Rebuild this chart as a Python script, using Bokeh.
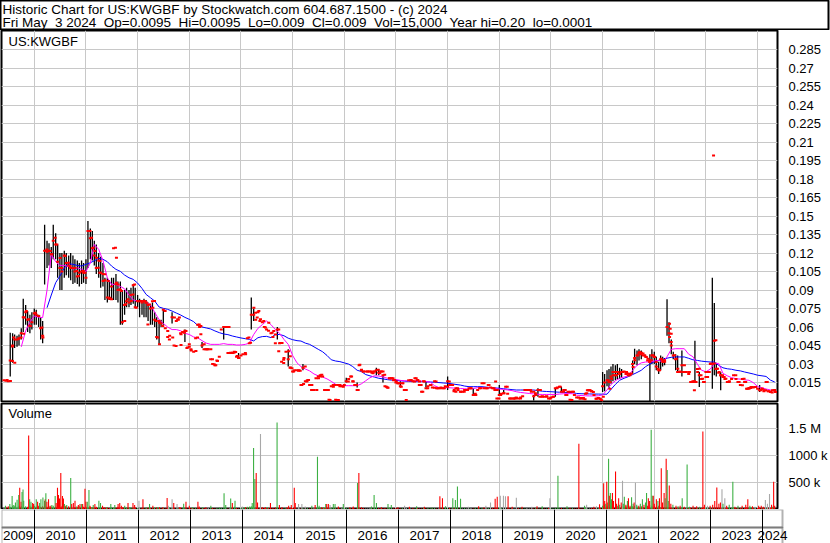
import numpy as np
import pandas as pd
from bokeh.plotting import figure
from bokeh.layouts import column
from bokeh.models import Range1d, FixedTicker, ColumnDataSource, Grid, BoxAnnotation
from bokeh.embed import file_html
from bokeh.resources import INLINE
from bokeh.core.properties import value

_ = None

# ---------------------------------------------------------------- texts
title_line1 = "Historic Chart for US:KWGBF by Stockwatch.com 604.687.1500 - (c) 2024"
title_line2 = ("Fri May  3 2024  Op=0.0095  Hi=0.0095  Lo=0.009  Cl=0.009  "
               "Vol=15,000  Year hi=0.20  lo=0.0001")
symbol = "US:KWGBF"
volume_title = "Volume"

years = list(range(2009, 2025))
year_labels = [str(y) for y in years]
year_starts = list(range(2010, 2025))

price_ticks = [0.015, 0.03, 0.045, 0.06, 0.075, 0.09, 0.105, 0.12, 0.135, 0.15,
               0.165, 0.18, 0.195, 0.21, 0.225, 0.24, 0.255, 0.27, 0.285]
price_tick_labels = ["0.015", "0.03", "0.045", "0.06", "0.075", "0.09", "0.105", "0.12",
                     "0.135", "0.15", "0.165", "0.18", "0.195", "0.21", "0.225", "0.24",
                     "0.255", "0.27", "0.285"]
volume_ticks = [500000, 1000000, 1500000]
volume_tick_labels = ["500 k", "1000 k", "1.5 M"]

# ---------------------------------------------------------------- price data (semi-monthly)
price_dates = pd.date_range("2009-06-01", "2024-05-01", freq="SMS")

close = (
    [0.017, 0.0165, 0.016, 0.033, 0.045, 0.05, 0.05, 0.051, 0.055, 0.068, 0.072, 0.066, 0.061, 0.064]
    + [0.071, 0.07, 0.069, 0.059, 0.053, 0.122, 0.121, 0.122, 0.119, 0.13, 0.127, 0.113,
       0.108, 0.105, 0.118, 0.112, 0.11, 0.108, 0.108, 0.105, 0.101, 0.104, 0.105, 0.104]
    + [0.1, 0.138, 0.132, 0.124, 0.118, 0.108, 0.114, 0.104, 0.103, 0.098, 0.084, 0.083,
       0.093, 0.124, 0.095, 0.09, 0.09, 0.064, 0.078, 0.081, 0.08, 0.086, 0.094, 0.076]
    + [0.081, 0.081, 0.08, 0.081, 0.08, 0.078, 0.075, 0.081, 0.066, 0.052, 0.065, 0.063,
       0.074, 0.059, 0.052, 0.053, 0.068, 0.045, 0.065, 0.066, 0.055, 0.056, 0.057, 0.043]
    + [0.044, 0.041, 0.04, 0.051, 0.062, 0.06, 0.045, 0.042, 0.042, 0.042, 0.034, 0.03,
       0.029, 0.033, 0.036, 0.058, 0.06, 0.06, 0.039, 0.039, 0.039, 0.04, 0.036, 0.035]
    + [0.037, 0.038, 0.039, 0.051, 0.047, 0.07, 0.07, 0.066, 0.072, 0.065, 0.064, 0.06,
       0.058, 0.057, 0.055, 0.052, 0.047, 0.058, 0.047, 0.032, 0.035, 0.04, 0.034, 0.027]
    + [0.024, 0.025, 0.025, 0.025, 0.013, 0.027, 0.016, 0.017, 0.013, 0.009, 0.009, 0.0185,
       0.02, 0.021, 0.02, 0.009, 0.009, 0.001, 0.012, 0.013, 0.001, 0.013, 0.012, 0.012]
    + [0.013, 0.016, 0.018, 0.02, 0.016, 0.013, 0.009, 0.029, 0.025, 0.024, 0.024, 0.024,
       0.024, 0.023, 0.024, 0.025, 0.023, 0.024, 0.021, 0.012, 0.011, 0.0185, 0.0185, 0.017]
    + [0.015, 0.0145, 0.012, 0.0145, 0.009, 0.009, 0.017, 0.017, 0.016, 0.0185, 0.017, 0.013,
       0.0076, 0.016, 0.0104, 0.012, 0.013, 0.011, 0.016, 0.0104, 0.0104, 0.011, 0.0104, 0.012]
    + [0.016, 0.013, 0.013, 0.008, 0.0104, 0.009, 0.0076, 0.0076, 0.009, 0.009, 0.0104, 0.0104,
       0.005, 0.006, 0.009, 0.0104, 0.0145, 0.0104, 0.0104, 0.013, 0.011, 0.0104, 0.009, 0.0022]
    + [0.005, 0.006, 0.0063, 0.0117, 0.006, 0.0022, 0.0022, 0.0022, 0.0027, 0.0022, 0.003, 0.004,
       0.009, 0.009, 0.009, 0.0076, 0.004, 0.005, 0.009, 0.0035, 0.004, 0.0035, 0.004, 0.0022]
    + [0.003, 0.0035, 0.0104, 0.011, 0.0117, 0.0076, 0.009, 0.005, 0.0076, 0.001, 0.0076, 0.005,
       0.003, 0.003, 0.0026, 0.002, 0.006, 0.0088, 0.0088, 0.008, 0.005, 0.002, 0.0026, 0.002]
    + [0.012, 0.015, 0.017, 0.0155, 0.02, 0.0236, 0.021, 0.0236, 0.022, 0.0236, 0.024, 0.022,
       0.021, 0.022, 0.03, 0.035, 0.037, 0.039, 0.038, 0.037, 0.036, 0.033, 0.033, 0.037]
    + [0.036, 0.028, 0.025, 0.034, 0.033, 0.032, 0.06, 0.055, 0.045, 0.037, 0.034, 0.0236,
       0.024, 0.029, 0.0236, 0.0236, 0.022, 0.0155, 0.016, 0.0155, 0.026, 0.021, 0.018, 0.0155]
    + [0.0196, 0.0236, 0.03, 0.03, 0.049, 0.026, 0.023, 0.021, 0.0196, 0.018, 0.0155, 0.016,
       0.018, 0.021, 0.018, 0.0155, 0.013, 0.018, 0.0155, 0.01, 0.0107, 0.0115, 0.011, 0.0115]
    + [0.01, 0.0088, 0.01, 0.0088, 0.0155, 0.008, 0.0075, 0.0088, 0.009]
)

high = (
    [_, _, _, 0.0555, 0.055, 0.054, 0.053, 0.054, 0.059, 0.083, 0.078, 0.073, 0.07, 0.072]
    + [0.075, 0.074, 0.07, 0.068, 0.065, 0.143, 0.13, 0.128, 0.125, 0.143, 0.136, 0.127,
       0.12, 0.12, 0.122, 0.12, 0.118, 0.12, 0.118, 0.115, 0.114, 0.112, 0.114, 0.112]
    + [0.115, 0.146, 0.14, 0.138, 0.13, 0.127, 0.12, 0.117, 0.112, 0.1, 0.1, 0.098,
       0.1, 0.1, 0.103, 0.097, 0.097, 0.09, 0.09, 0.092, 0.09, 0.092, 0.095, 0.092]
    + [0.086, 0.083, 0.082, 0.083, 0.082, 0.08, 0.078, 0.08, 0.072, 0.068, 0.066, 0.066,
       0.074, _, _, _, 0.072, _, _, _, _, _, 0.058, _]
    + [_] * 6 + [0.048] + [_] * 9 + [0.06] + [_] * 6 + [0.039]
    + [_] * 5 + [0.084, 0.075] + [_] * 10 + [0.06] + [_] * 4 + [0.042] + [_]
    + [_] * 5 + [0.03] + [_] * 18
    + [_, 0.019, _, _, _, _, 0.015] + [_] * 8 + [0.027, 0.026, _, 0.021] + [_] * 5
    + [_, _, 0.016] + [_] * 11 + [0.016] + [_] * 9
    + [0.02] + [_] * 11 + [0.0104] + [_] * 11
    + [0.013, _, 0.009] + [_] * 13 + [0.005, _, 0.0104] + [_] * 5
    + [_, _, 0.0104, _, _, 0.0117] + [_] * 18
    + [0.0236, 0.022, 0.025, 0.026, 0.028, 0.03, 0.029, 0.03, 0.027, 0.026, _, _,
       _, _, 0.033, 0.0425, 0.041, 0.042, 0.041, _, _, _, 0.038, 0.042]
    + [0.04, 0.036, 0.032, 0.037, 0.036, 0.035, 0.0825, 0.064, 0.05, 0.04, 0.038, 0.037,
       _, 0.041, _, _, _, _, _, 0.049, _, 0.0236, _, _]
    + [_, _, _, 0.1, 0.0795, 0.031, _, 0.0236] + [_] * 16
    + [_, 0.013, _, _, _, _, _, _, 0.0095]
)

low = (
    [_, _, _, 0.02, 0.031, 0.043, 0.044, 0.045, 0.05, 0.056, 0.062, 0.056, 0.055, 0.058]
    + [0.062, 0.062, 0.06, 0.05, 0.047, 0.0945, 0.108, 0.11, 0.108, 0.115, 0.115, 0.1,
       0.09, 0.09, 0.1, 0.102, 0.1, 0.098, 0.095, 0.096, 0.095, 0.093, 0.095, 0.096]
    + [0.095, 0.108, 0.115, 0.114, 0.11, 0.103, 0.1, 0.092, 0.093, 0.082, 0.08, 0.082,
       0.083, 0.082, 0.082, 0.08, 0.062, 0.062, 0.07, 0.076, 0.076, 0.078, 0.079, 0.076]
    + [0.076, 0.068, 0.07, 0.068, 0.068, 0.065, 0.062, 0.062, 0.06, 0.05, 0.046, 0.06,
       0.062, _, _, _, 0.063, _, _, _, _, _, 0.048, _]
    + [_] * 6 + [0.043] + [_] * 9 + [0.05] + [_] * 6 + [0.035]
    + [_] * 5 + [0.058, 0.065] + [_] * 10 + [0.05] + [_] * 4 + [0.028] + [_]
    + [_] * 5 + [0.025] + [_] * 18
    + [_, 0.015, _, _, _, _, 0.011] + [_] * 8 + [0.021, 0.021, _, 0.015] + [_] * 5
    + [_, _, 0.011] + [_] * 11 + [0.011] + [_] * 9
    + [0.009] + [_] * 11 + [0.005] + [_] * 11
    + [0.005, _, 0.0063] + [_] * 13 + [0.0005, _, 0.0035] + [_] * 5
    + [_, _, 0.0035, _, _, 0.0076] + [_] * 18
    + [0.0074, 0.008, 0.012, 0.01, 0.014, 0.016, 0.017, 0.018, 0.018, 0.019, _, _,
       _, _, 0.022, 0.03, 0.029, 0.033, 0.034, _, _, _, 0.0, 0.03]
    + [0.03, 0.025, 0.022, 0.025, 0.028, 0.029, 0.053, 0.047, 0.038, 0.034, 0.025, 0.023,
       _, 0.02, _, _, _, _, _, 0.015, _, 0.0115, _, _]
    + [_, _, _, 0.01, 0.021, 0.02, _, 0.0088] + [_] * 16
    + [_, 0.0074, _, _, _, _, _, _, 0.009]
)

# further daily closes (decimal year, price)
extra_close_year = (
    [2009.474, 2009.538, 2009.577, 2009.622, 2009.577, 2009.603, 2009.699, 2009.744, 2009.795,
     2009.808, 2009.846, 2009.891, 2009.923]
    + [2010.019, 2010.083, 2010.147, 2010.167, 2010.244, 2010.308, 2010.34, 2010.404, 2010.436,
       2010.5, 2010.532, 2010.596, 2010.66, 2010.692, 2010.788, 2010.821, 2010.853, 2010.949,
       2010.981]
    + [2011.077, 2011.109, 2011.141, 2011.173, 2011.205, 2011.237, 2011.269, 2011.269, 2011.333,
       2011.365, 2011.429, 2011.462, 2011.494, 2011.571, 2011.59, 2011.59, 2011.622, 2011.654,
       2011.686, 2011.75, 2011.769, 2011.814, 2011.878, 2011.91, 2011.942, 2011.974]
    + [2012.006, 2012.071, 2012.135, 2012.167, 2012.199, 2012.231, 2012.295, 2012.327, 2012.359,
       2012.391, 2012.423, 2012.423, 2012.487, 2012.532, 2012.583, 2012.615, 2012.679, 2012.712,
       2012.744, 2012.776, 2012.808, 2012.84, 2012.84, 2012.904, 2012.936, 2012.968]
    + [2013.0, 2013.032, 2013.128, 2013.16, 2013.192, 2013.224, 2013.224, 2013.288, 2013.321,
       2013.353, 2013.417, 2013.449, 2013.481, 2013.513, 2013.545, 2013.705, 2013.737, 2013.769,
       2013.801, 2013.833, 2013.865, 2013.897, 2013.929, 2013.962]
    + [2014.09, 2014.154, 2014.186, 2014.25, 2014.282, 2014.314, 2014.346, 2014.378, 2014.442,
       2014.474, 2014.538, 2014.603, 2014.635, 2014.667, 2014.731, 2014.763, 2014.795, 2014.731,
       2014.827, 2014.827, 2014.923, 2014.955, 2014.955, 2014.987]
    + [2015.019, 2015.115, 2015.147, 2015.179, 2015.212, 2015.244, 2015.276, 2015.308, 2015.372,
       2015.404, 2015.468, 2015.5, 2015.532, 2015.564, 2015.628, 2015.692, 2015.724, 2015.788,
       2015.821, 2015.853, 2015.885, 2015.917, 2015.981]
    + [2016.077, 2016.141, 2016.173, 2016.237, 2016.269, 2016.301, 2016.333, 2016.365, 2016.462,
       2016.526, 2016.558, 2016.59, 2016.654, 2016.686, 2016.718, 2016.75, 2016.782, 2016.814,
       2016.846, 2016.878, 2016.91, 2016.942, 2016.974]
    + [2017.006, 2017.038, 2017.071, 2017.103, 2017.135, 2017.167, 2017.199, 2017.295, 2017.359,
       2017.391, 2017.423, 2017.455, 2017.487, 2017.519, 2017.551, 2017.615, 2017.679, 2017.744,
       2017.776, 2017.808, 2017.872, 2017.936]
    + [2018.0, 2018.032, 2018.096, 2018.128, 2018.16, 2018.192, 2018.256, 2018.321, 2018.385,
       2018.449, 2018.513, 2018.545, 2018.641, 2018.705, 2018.769, 2018.801, 2018.897, 2018.929,
       2018.962, 2018.994]
    + [2019.026, 2019.09, 2019.154, 2019.218, 2019.282, 2019.314, 2019.327, 2019.41, 2019.538,
       2019.603, 2019.667, 2019.699, 2019.795, 2019.827, 2019.923, 2019.987]
    + [2020.051, 2020.115, 2020.179, 2020.244, 2020.276, 2020.308, 2020.372, 2020.404, 2020.436,
       2020.564, 2020.628, 2020.66, 2020.692, 2020.724, 2020.756, 2020.788, 2020.821, 2020.885,
       2020.917, 2020.949, 2020.981]
    + [2021.013, 2021.109, 2021.141, 2021.141, 2021.173, 2021.205, 2021.237, 2021.269, 2021.301,
       2021.397, 2021.462, 2021.494, 2021.526, 2021.558, 2021.59, 2021.622, 2021.686, 2021.718,
       2021.75, 2021.782, 2021.814, 2021.846, 2021.878, 2021.91, 2021.942, 2021.974]
    + [2022.006, 2022.038, 2022.071, 2022.103, 2022.135, 2022.167, 2022.199, 2022.295, 2022.308,
       2022.327, 2022.295, 2022.327, 2022.391, 2022.423, 2022.455, 2022.487, 2022.551, 2022.583,
       2022.615, 2022.679, 2022.744, 2022.776, 2022.776, 2022.808, 2022.84, 2022.872, 2022.904,
       2022.936, 2022.968]
    + [2023.0, 2023.032, 2023.064, 2023.096, 2023.147, 2023.16, 2023.192, 2023.192, 2023.224,
       2023.256, 2023.288, 2023.321, 2023.353, 2023.385, 2023.417, 2023.449, 2023.577, 2023.641,
       2023.705, 2023.737, 2023.769, 2023.801, 2023.833, 2023.865, 2023.897, 2023.962]
    + [2024.058, 2024.09, 2024.122, 2024.154, 2024.186, 2024.218, 2024.25, 2024.282, 2024.314,
       2024.346]
)

extra_close = (
    [0.0172, 0.0163, 0.0325, 0.0312, 0.0442, 0.0515, 0.0506, 0.0515, 0.0547,
     0.0677, 0.073, 0.0663, 0.0609]
    + [0.0717, 0.069, 0.0596, 0.0515, 0.123, 0.1217, 0.119, 0.1325, 0.127,
       0.116, 0.108, 0.1176, 0.1122, 0.1095, 0.108, 0.1055, 0.1014, 0.1055,
       0.104]
    + [0.1379, 0.1325, 0.1244, 0.1217, 0.1163, 0.1081, 0.1136, 0.1041, 0.0974,
       0.1028, 0.0974, 0.0838, 0.0825, 0.1244, 0.1163, 0.096, 0.0946, 0.0906,
       0.0892, 0.065, 0.0785, 0.0825, 0.0811, 0.0865, 0.0946, 0.0757]
    + [0.0811, 0.0811, 0.0811, 0.0798, 0.0622, 0.0784, 0.0757, 0.0811, 0.065,
       0.0515, 0.0636, 0.046, 0.0609, 0.073, 0.0569, 0.05, 0.0515, 0.0677,
       0.0447, 0.0663, 0.0677, 0.0542, 0.0455, 0.0555, 0.0569, 0.0434]
    + [0.046, 0.042, 0.0406, 0.0515, 0.0622, 0.0609, 0.0542, 0.046, 0.042,
       0.042, 0.042, 0.0339, 0.0298, 0.029, 0.0326, 0.0601, 0.0601, 0.0601,
       0.0393, 0.0393, 0.0393, 0.0398, 0.0366, 0.0352]
    + [0.0379, 0.0515, 0.0474, 0.0757, 0.0717, 0.0677, 0.073, 0.0663, 0.065,
       0.0596, 0.0636, 0.0554, 0.0568, 0.054, 0.0581, 0.0472, 0.0472, 0.0404,
       0.0336, 0.0308, 0.0404, 0.0363, 0.0273, 0.0267]
    + [0.024, 0.0246, 0.0246, 0.0131, 0.0139, 0.0281, 0.0158, 0.0172, 0.0131,
       0.009, 0.009, 0.0185, 0.0199, 0.0213, 0.009, 0.009, 0.0008, 0.0117,
       0.0131, 0.0008, 0.0008, 0.0131, 0.0117]
    + [0.0158, 0.0199, 0.0158, 0.0131, 0.009, 0.0295, 0.0254, 0.024, 0.024,
       0.024, 0.0226, 0.024, 0.0254, 0.0226, 0.024, 0.024, 0.0213, 0.0117,
       0.0109, 0.0185, 0.0185, 0.0185, 0.0172]
    + [0.0158, 0.0145, 0.0145, 0.0117, 0.0145, 0.009, 0.0008, 0.0172, 0.0158,
       0.0185, 0.0172, 0.0158, 0.0131, 0.0076, 0.0158, 0.0104, 0.0131, 0.0109,
       0.0158, 0.0104, 0.0104, 0.0104]
    + [0.0117, 0.0158, 0.0131, 0.009, 0.0076, 0.0104, 0.0076, 0.0076, 0.009,
       0.0104, 0.0049, 0.0049, 0.0104, 0.0145, 0.0104, 0.0131, 0.0104, 0.0158,
       0.009, 0.0022]
    + [0.0049, 0.0063, 0.0117, 0.0022, 0.0022, 0.0022, 0.0027, 0.0022, 0.009,
       0.009, 0.0076, 0.0063, 0.009, 0.0035, 0.0035, 0.0022]
    + [0.0035, 0.0104, 0.0117, 0.0076, 0.009, 0.0049, 0.0076, 0.0008, 0.0076,
       0.002, 0.0026, 0.0015, 0.0063, 0.0088, 0.0088, 0.008, 0.0074, 0.002,
       0.0026, 0.002, 0.0007]
    + [0.0035, 0.0169, 0.0155, 0.0101, 0.0182, 0.0209, 0.0236, 0.0209, 0.0236,
       0.0236, 0.0236, 0.0223, 0.0209, 0.0223, 0.0277, 0.0331, 0.0371, 0.0398,
       0.0393, 0.0385, 0.0371, 0.0358, 0.0344, 0.0317, 0.0331, 0.0371]
    + [0.0358, 0.0317, 0.0263, 0.025, 0.0344, 0.0317, 0.0331, 0.0628, 0.0587,
       0.0547, 0.052, 0.0479, 0.0371, 0.0344, 0.0263, 0.0236, 0.0236, 0.029,
       0.0236, 0.0236, 0.0155, 0.0161, 0.0088, 0.0155, 0.0236, 0.0263, 0.0209,
       0.0182, 0.0155]
    + [0.0236, 0.0196, 0.0236, 0.0304, 0.1991, 0.0304, 0.0493, 0.0263, 0.0263,
       0.0236, 0.0209, 0.0209, 0.0196, 0.0182, 0.0155, 0.0155, 0.0209, 0.0155,
       0.0128, 0.0182, 0.0155, 0.0101, 0.0101, 0.0107, 0.0115, 0.0115]
    + [0.0088, 0.0101, 0.008, 0.0088, 0.0155, 0.008, 0.0074, 0.0069, 0.0088,
       0.0074]
)

# low background volume in each half month (thousands of shares)
floor_volume_k = (
    [30, 40, 50, 40, 60, 50, 40, 60, 50, 40, 50, 40, 60, 40]
    + [50, 40, 60, 40, 50, 60, 40, 50, 40, 60, 40, 30, 40, 50, 30, 40, 50, 30, 40, 30, 40, 50, 30, 40]
    + [40, 30, 40, 30, 20, 40, 30, 20, 30, 20, 30, 20, 30, 20, 30, 40, 20, 30, 20, 30, 20, 30, 20, 30]
    + [20, 30, 20, 10, 20, 30, 20, 10, 20, 30, 20, 10, 20, 10, 20, 30, 10, 20, 10, 20, 30, 10, 20, 10]
    + [10, 20, 10, 20, 10, 20, 10, 20, 10, 20, 10, 20, 10, 20, 30, 20, 10, 20, 10, 20, 30, 40, 20, 10]
    + [20, 10, 30, 40, 30, 50, 30, 20, 10, 20, 30, 20, 10, 20, 10, 20, 30, 20, 10, 20, 10, 20, 10, 20]
    + [20, 30, 10, 20, 10, 20, 10, 20, 10, 20, 30, 20, 10, 20, 10, 20, 10, 10, 20, 10, 20, 10, 10, 20]
    + [10, 20, 10, 10, 20, 10, 20, 30, 10, 20, 10, 10, 20, 10, 20, 10, 20, 10, 10, 20, 10, 20, 10, 10]
    + [20, 10, 10, 20, 10, 20, 10, 10, 20, 10, 20, 10, 10, 20, 10, 20, 10, 10, 20, 10, 20, 10, 10, 20]
    + [10, 20, 10, 20, 10, 10, 20, 10, 20, 10, 10, 20, 10, 20, 10, 10, 20, 30, 10, 20, 10, 20, 10, 20]
    + [30, 20, 10, 20, 10, 10, 20, 10, 10, 20, 10, 10, 10, 20, 10, 10, 10, 20, 10, 10, 20, 10, 10, 20]
    + [10, 10, 20, 10, 10, 20, 10, 10, 10, 20, 20, 10, 10, 20, 10, 10, 20, 10, 10, 20, 10, 10, 20, 20]
    + [60, 80, 60, 40, 60, 50, 40, 60, 30, 50, 40, 60, 30, 40, 50, 60, 50, 40, 50, 30, 40, 60, 70, 50]
    + [50, 40, 60, 30, 40, 30, 40, 30, 20, 30, 20, 30, 20, 30, 20, 30, 20, 30, 20, 30, 20, 30, 20, 30]
    + [30, 20, 30, 40, 20, 30, 20, 30, 20, 30, 20, 30, 20, 30, 20, 30, 20, 30, 20, 30, 20, 30, 20, 30]
    + [20, 30, 20, 30, 20, 30, 20, 40, 15]
)

# individual sessions:
# time (decimal year), volume (thousands), day direction (u = up, d = down, f = unchanged)
session_year = (
    [2009.442, 2009.526, 2009.571, 2009.603, 2009.635, 2009.667, 2009.699, 2009.718, 2009.744,
     2009.763, 2009.782, 2009.795, 2009.891, 2009.910, 2009.936, 2009.968, 2009.987]
    + [2010.006, 2010.038, 2010.064, 2010.103, 2010.128, 2010.167, 2010.199, 2010.212, 2010.224,
       2010.244, 2010.276, 2010.308, 2010.340, 2010.372, 2010.404, 2010.423, 2010.449, 2010.468,
       2010.487, 2010.513, 2010.545, 2010.564, 2010.583, 2010.609, 2010.628, 2010.705, 2010.724,
       2010.756, 2010.788, 2010.821, 2010.853, 2010.885, 2010.917, 2010.936, 2010.981]
    + [2011.0, 2011.026, 2011.058, 2011.077, 2011.109, 2011.141, 2011.173, 2011.205, 2011.25,
       2011.282, 2011.321, 2011.365, 2011.397, 2011.481, 2011.558, 2011.622, 2011.654, 2011.686,
       2011.718, 2011.75, 2011.814, 2011.846, 2011.910, 2011.942]
    + [2012.026, 2012.103, 2012.167, 2012.231, 2012.295, 2012.327, 2012.391, 2012.423, 2012.487,
       2012.571, 2012.596, 2012.667, 2012.699, 2012.763, 2012.808, 2012.891, 2012.936]
    + [2013.0, 2013.064, 2013.167, 2013.192, 2013.256, 2013.321, 2013.417, 2013.673, 2013.705,
       2013.801, 2013.833, 2013.885]
    + [2014.026, 2014.058, 2014.090, 2014.167, 2014.199, 2014.218, 2014.244, 2014.269, 2014.295,
       2014.321, 2014.378, 2014.410, 2014.474, 2014.506, 2014.571, 2014.699, 2014.744, 2014.795,
       2014.891, 2014.923, 2014.974]
    + [2015.032, 2015.051, 2015.115, 2015.179, 2015.244, 2015.372, 2015.436, 2015.481, 2015.513,
       2015.564, 2015.596, 2015.641, 2015.660, 2015.692, 2015.724, 2015.788, 2015.821, 2015.885,
       2015.981]
    + [2016.109, 2016.173, 2016.256, 2016.282, 2016.333, 2016.526, 2016.577, 2016.622, 2016.718,
       2016.846, 2016.910]
    + [2017.038, 2017.167, 2017.26, 2017.40, 2017.55, 2017.70, 2017.85, 2017.90, 2017.96]
    + [2018.10, 2018.15, 2018.19, 2018.25, 2018.40, 2018.60, 2018.74, 2018.83, 2018.92, 2018.96]
    + [2019.02, 2019.08, 2019.12, 2019.17, 2019.25, 2019.33, 2019.44, 2019.63, 2019.73, 2019.83,
       2019.98]
    + [2020.135, 2020.31, 2020.54, 2020.65, 2020.69, 2020.83, 2020.88, 2020.94]
    + [2021.02, 2021.04, 2021.06, 2021.08, 2021.10, 2021.115, 2021.13, 2021.15, 2021.17, 2021.19,
       2021.21, 2021.25, 2021.27, 2021.31, 2021.33, 2021.36, 2021.385, 2021.40, 2021.42, 2021.45,
       2021.48, 2021.50, 2021.53, 2021.56, 2021.59, 2021.61, 2021.635, 2021.66, 2021.70, 2021.73,
       2021.77, 2021.80, 2021.83, 2021.85, 2021.885, 2021.91, 2021.94, 2021.96, 2021.98]
    + [2022.00, 2022.04, 2022.07, 2022.10, 2022.135, 2022.16, 2022.19, 2022.21, 2022.23, 2022.25,
       2022.27, 2022.29, 2022.32, 2022.36, 2022.42, 2022.46, 2022.50, 2022.54, 2022.58, 2022.635,
       2022.68, 2022.75, 2022.82, 2022.88, 2022.94, 2022.97]
    + [2023.03, 2023.08, 2023.13, 2023.17, 2023.21, 2023.25, 2023.28, 2023.31, 2023.33, 2023.365,
       2023.40, 2023.45, 2023.52, 2023.56, 2023.62, 2023.70, 2023.77, 2023.81, 2023.85, 2023.90,
       2023.95]
    + [2024.02, 2024.07, 2024.11, 2024.15, 2024.19, 2024.23, 2024.27, 2024.31, 2024.33]
)

session_volume_k = (
    [61, 92, 244, 73, 122, 171, 260, 397, 134, 317, 366, 153, 1373, 183, 134, 110, 92]
    + [61, 183, 134, 110, 183, 214, 153, 183, 293, 134, 183, 61, 73, 31, 244, 110, 397, 262,
       195, 671, 244, 195, 92, 61, 73, 580, 92, 110, 153, 49, 73, 92, 92, 92, 378]
    + [134, 134, 354, 61, 31, 73, 92, 31, 153, 110, 61, 31, 31, 92, 73, 92, 110, 61,
       31, 61, 110, 31, 110, 73]
    + [153, 183, 31, 92, 61, 31, 31, 31, 31, 207, 61, 183, 110, 92, 31, 98, 134]
    + [61, 31, 134, 49, 31, 31, 61, 293, 73, 195, 110, 153]
    + [49, 31, 31, 49, 31, 110, 1141, 561, 671, 122, 1403, 31, 31, 31, 110, 1617, 73, 31,
       31, 61, 73]
    + [397, 110, 92, 92, 49, 61, 73, 976, 61, 31, 31, 92, 92, 92, 73, 92, 92, 49, 92]
    + [31, 49, 488, 671, 31, 49, 262, 110, 31, 92, 73]
    + [31, 61, 40, 50, 40, 30, 240, 200, 50]
    + [200, 170, 420, 190, 40, 50, 60, 120, 190, 230]
    + [250, 250, 240, 240, 40, 210, 40, 40, 50, 50, 200]
    + [620, 50, 1220, 60, 80, 40, 50, 90]
    + [480, 150, 100, 510, 120, 940, 250, 300, 180, 300, 150, 700, 100, 200, 80, 120, 530, 100,
       230, 80, 150, 200, 60, 220, 100, 120, 490, 80, 60, 100, 180, 80, 120, 300, 200, 150,
       1480, 250, 250]
    + [100, 180, 150, 200, 760, 120, 300, 200, 940, 730, 150, 440, 100, 80, 60, 50, 60, 200,
       40, 830, 40, 60, 50, 40, 1450, 80]
    + [60, 60, 80, 150, 400, 100, 120, 370, 100, 200, 60, 80, 510, 40, 60, 60, 80, 180, 60, 50, 40]
    + [60, 60, 40, 170, 100, 280, 80, 510, 60]
)

session_direction = (
    "u u u u u u u d d u u u d u u d d".split()
    + "u u d u u u u d u d d d u u u d d d d d d d u d u u d d d u d d u d d".split()
    + "d u u d u u d d u u d d u u u d d d d u d u d d".split()
    + "f d u u d u u d d d f f d f d u d".split()
    + "d u d d u d u u u u d u".split()
    + "f u d u u u u u d d f d d u d u d d d d d".split()
    + "d d f f f u d u u d u u d d f u u d u".split()
    + "d d u d d u u u d u u".split()
    + "d f d u d u d d u".split()
    + "u u u u f d f f d d".split()
    + "f f f d d f d f d u f".split()
    + "u u d u f d f d".split()
    + "d d u d d u d u u d d d d d u d f u u d u d d u u d f u d u u d u u d d u u d".split()
    + "d d u d d d d u d u u d d u d u d u d u u d d u d d".split()
    + "f d d d d d d f u f d u u d u d d d u d f".split()
    + "d d d f f f d d d".split()
)

# ---------------------------------------------------------------- moving averages (monthly)
ma_dates = pd.date_range("2009-06-01", "2024-05-01", freq="MS")

ma_short = (
    [_, _, _, _, 0.044, 0.057, 0.064]
    + [0.069, 0.068, 0.0677, 0.09, 0.119, 0.113, 0.11, 0.11, 0.109, 0.107, 0.108, 0.107]
    + [0.105, 0.112, 0.127, 0.123, 0.114, 0.1, 0.0946, 0.0946, 0.093, 0.091, 0.086, 0.082]
    + [0.081, 0.081, 0.0806, 0.078, 0.072, 0.066, 0.063, 0.06, 0.058, 0.058, 0.057, 0.055]
    + [0.054, 0.052, 0.0514, 0.049, 0.047, 0.046, 0.046, 0.046, 0.0466, 0.046, 0.046, 0.0455]
    + [0.0455, 0.046, 0.047, 0.054, 0.059, 0.062, 0.065, 0.062, 0.058, 0.055, 0.05, 0.046]
    + [0.037, 0.031, 0.028, 0.026, 0.0245, 0.022, 0.0205, 0.0195, 0.018, 0.016, 0.0136, 0.0128]
    + [0.0125, 0.0125, 0.0125, 0.0125, 0.014, 0.0165, 0.019, 0.0205, 0.0203, 0.0196, 0.0186, 0.018]
    + [0.0175, 0.0168, 0.0165, 0.0164, 0.0164, 0.0164, 0.0162, 0.016, 0.0152, 0.0125, 0.011, 0.0109]
    + [0.0109, 0.0107, 0.0104, 0.0102, 0.01, 0.0098, 0.0102, 0.0109, 0.0109, 0.0109, 0.0106, 0.0102]
    + [0.0098, 0.0095, 0.009, 0.0085, 0.0076, 0.007, 0.0066, 0.0062, 0.0058, 0.0055, 0.0054, 0.0054]
    + [0.0054, 0.0054, 0.0057, 0.006, 0.0061, 0.006, 0.0048, 0.0045, 0.0043, 0.0042, 0.0042, 0.0043]
    + [0.005, 0.009, 0.0135, 0.0165, 0.0185, 0.0195, 0.0205, 0.025, 0.029, 0.031, 0.0317, 0.0317]
    + [0.0325, 0.0331, 0.0317, 0.036, 0.042, 0.0425, 0.0425, 0.0425, 0.038, 0.036, 0.03, 0.025]
    + [0.0238, 0.026, 0.0305, 0.0306, 0.0225, 0.0205, 0.019, 0.0182, 0.0178, 0.0172, 0.0169, 0.015]
    + [0.0118, 0.0108, 0.0098, 0.009, 0.008]
)

ma_long = (
    [_, _, _, _, _, _, _]
    + [_, _, _, 0.0757, 0.086, 0.096, 0.1014, 0.108, 0.1114, 0.1109, 0.11, 0.1095]
    + [0.1109, 0.1122, 0.1138, 0.1157, 0.115, 0.113, 0.1095, 0.1068, 0.1052, 0.1022, 0.1, 0.0987]
    + [0.0957, 0.0914, 0.0865, 0.0838, 0.0811, 0.0763, 0.0752, 0.0744, 0.073, 0.0714, 0.0698, 0.0679]
    + [0.0663, 0.0644, 0.0614, 0.0601, 0.0593, 0.0585, 0.0569, 0.0555, 0.0544, 0.0539, 0.0528, 0.052]
    + [0.0512, 0.0506, 0.0501, 0.0488, 0.0514, 0.0523, 0.0525, 0.0515, 0.054, 0.054, 0.053, 0.051]
    + [0.0498, 0.049, 0.0487, 0.047, 0.046, 0.044, 0.042, 0.04, 0.037, 0.0335, 0.0325, 0.032]
    + [0.031, 0.03, 0.028, 0.025, 0.024, 0.0215, 0.0205, 0.0195, 0.0185, 0.018, 0.0174, 0.017]
    + [0.0167, 0.0165, 0.0162, 0.016, 0.0158, 0.0158, 0.0158, 0.0156, 0.0155, 0.0153, 0.015, 0.0147]
    + [0.0145, 0.014, 0.0135, 0.013, 0.0122, 0.0117, 0.0117, 0.0117, 0.0117, 0.0113, 0.011, 0.0107]
    + [0.0104, 0.01, 0.0097, 0.0093, 0.009, 0.009, 0.009, 0.009, 0.009, 0.0085, 0.008, 0.0078]
    + [0.0076, 0.0074, 0.0072, 0.0071, 0.007, 0.0069, 0.0062, 0.006, 0.0059, 0.0058, 0.0057, 0.0057]
    + [0.0056, 0.0056, 0.0095, 0.0135, 0.0169, 0.0185, 0.0198, 0.0215, 0.0232, 0.025, 0.028, 0.03]
    + [0.032, 0.033, 0.0339, 0.0348, 0.0355, 0.0358, 0.0358, 0.0358, 0.0347, 0.0335, 0.033, 0.0324]
    + [0.032, 0.0317, 0.0317, 0.029, 0.027, 0.0262, 0.0258, 0.025, 0.0245, 0.0236, 0.0228, 0.022]
    + [0.021, 0.0205, 0.02, 0.017, 0.0155]
)

# ---------------------------------------------------------------- helpers
def decimal_year(dates):
    d = pd.DatetimeIndex(dates)
    yr = np.asarray(d.year, dtype=float)
    doy = np.asarray(d.dayofyear, dtype=float)
    days = np.where(np.asarray(d.is_leap_year), 366.0, 365.0)
    return yr + (doy - 1.0) / days


def nan_list(vals):
    return [np.nan if v is None else float(v) for v in vals]


FONT = "Liberation Sans"
GRID = "#c8c8c8"
DIR_COLOR = {"u": "#3cb043", "d": "#ff0000", "f": "#a8a8a8"}

# 52 px per year, chart frames are 781 px wide
PX_PER_YEAR = 52
X0 = 2010 - 33 / PX_PER_YEAR
X1 = X0 + 781 / PX_PER_YEAR
x_range = Range1d(X0, X1)

t_price = decimal_year(price_dates)
n = min(len(t_price), len(close))

bar_t, bar_hi, bar_lo = [], [], []
for t, h, l in zip(t_price, high, low):
    if h is not None and l is not None:
        bar_t.append(float(t))
        bar_hi.append(h)
        bar_lo.append(l)

all_close_t = list(t_price[:n]) + list(extra_close_year[:len(extra_close)])
all_close_v = list(close[:n]) + list(extra_close[:len(extra_close_year)])
close_src = ColumnDataSource(dict(t=all_close_t, close=all_close_v))
bar_src = ColumnDataSource(dict(t=bar_t, high=bar_hi, low=bar_lo))

t_ma = decimal_year(ma_dates)
ms = nan_list(ma_short)
ml = nan_list(ma_long)
ma_short_src = ColumnDataSource(dict(t=list(t_ma[:len(ms)]), v=ms[:len(t_ma)]))
ma_long_src = ColumnDataSource(dict(t=list(t_ma[:len(ml)]), v=ml[:len(t_ma)]))

vol_t, vol_v, vol_c = [], [], []
prev = None
for t, v, c in zip(t_price, floor_volume_k, close):
    if prev is None or c == prev:
        d = "f"
    elif c > prev:
        d = "u"
    else:
        d = "d"
    prev = c
    vol_t.append(float(t))
    vol_v.append(v * 1000)
    vol_c.append(DIR_COLOR[d])
for t, v, d in zip(session_year, session_volume_k, session_direction):
    vol_t.append(t)
    vol_v.append(v * 1000)
    vol_c.append(DIR_COLOR[d])
vol_src = ColumnDataSource(dict(t=vol_t, vol=vol_v, color=vol_c))


def make_panel(height, y_range, top_border, bottom_border):
    p = figure(width=830, height=height, x_range=x_range, y_range=y_range,
               output_backend="svg", toolbar_location=None,
               x_axis_type=None, y_axis_location="right",
               min_border_left=1, min_border_right=48,
               min_border_top=top_border, min_border_bottom=bottom_border)
    p.outline_line_color = "black"
    p.outline_line_width = 2
    p.background_fill_color = "white"
    p.border_fill_color = "white"
    return p


def style_axis(p, ticks, labels):
    for ax in p.yaxis:
        ax.ticker = FixedTicker(ticks=ticks)
        ax.major_label_overrides = {t: l for t, l in zip(ticks, labels)}
        ax.axis_line_color = None
        ax.major_tick_line_color = None
        ax.minor_tick_line_color = None
        ax.major_label_text_font = FONT
        ax.major_label_text_font_size = "13px"
        ax.major_label_text_color = "black"
        ax.major_label_standoff = 5
    p.ygrid.ticker = FixedTicker(ticks=ticks)
    p.ygrid.grid_line_color = GRID
    p.add_layout(Grid(dimension=0, ticker=FixedTicker(ticks=year_starts),
                      grid_line_color=GRID), "center")


TXT = dict(text_font=value(FONT), text_font_size=value("13px"), text_color="black",
           text_baseline="middle", text_align="left")

# ---------------------------------------------------------------- header
header = figure(width=830, height=30, x_range=Range1d(0, 828), y_range=Range1d(30, 0),
                output_backend="svg", toolbar_location=None,
                x_axis_type=None, y_axis_type=None,
                min_border_left=0, min_border_right=2, min_border_top=0, min_border_bottom=0)
header.outline_line_color = "black"
header.outline_line_width = 2
header.background_fill_color = "white"
header.border_fill_color = "white"
header.text(x=[2, 2], y=[8.5, 21.5],
            text=[title_line1, title_line2.replace("  ", " \u00a0")],
            text_font=value(FONT), text_font_size=value("13.5px"), text_color="black",
            text_baseline="middle", text_align="left")

# ---------------------------------------------------------------- price panel
price_range = Range1d(-0.00032, 0.30049)
price = make_panel(372, price_range, 0, 1)
style_axis(price, price_ticks, price_tick_labels)
price.segment(x0="t", y0="low", x1="t", y1="high", source=bar_src,
              line_color="black", line_width=1.3)
price.line("t", "v", source=ma_long_src, line_color="#0000ff", line_width=1)
price.line("t", "v", source=ma_short_src, line_color="#ff00ff", line_width=1)
price.rect(x="t", y="close", width=3, height=2, width_units="screen", height_units="screen",
           source=close_src, fill_color="#ff0000", line_color=None)
price.text(x=[X0], y=[price_range.end], text=[symbol], x_offset=7, y_offset=11, **TXT)

# ---------------------------------------------------------------- volume panel
vol_range = Range1d(-9400, 1972800)
volume = make_panel(107, vol_range, 1, 0)
style_axis(volume, volume_ticks, volume_tick_labels)
volume.vbar(x="t", top="vol", bottom=0, width=1.1 / PX_PER_YEAR, source=vol_src,
            fill_color="color", line_color=None)
volume.text(x=[X0], y=[vol_range.end], text=[volume_title], x_offset=7, y_offset=9.5, **TXT)

# ---------------------------------------------------------------- year strip (full width frame)
bottom = figure(width=830, height=34, x_range=Range1d(X0, X0 + 829 / PX_PER_YEAR),
                y_range=Range1d(34, 0), output_backend="svg", toolbar_location=None,
                x_axis_type=None, y_axis_type=None,
                min_border_left=1, min_border_right=0, min_border_top=0, min_border_bottom=0)
bottom.outline_line_color = None
bottom.background_fill_color = "white"
bottom.border_fill_color = "white"
bottom.add_layout(Grid(dimension=0, ticker=FixedTicker(ticks=year_starts),
                       grid_line_color="black", grid_line_width=1), "center")
bottom.add_layout(BoxAnnotation(left=X0, right=X1, top=0, bottom=18, fill_color=None,
                                line_color="black", line_width=2))
bottom.add_layout(BoxAnnotation(left=X0, right=X1, top=18, bottom=37, fill_color=None,
                                line_color="black", line_width=2))
year_x = [(max(y, X0) + min(y + 1, X1)) / 2 for y in years]
bottom.text(x=year_x, y=[25.5] * len(year_x), text=year_labels,
            text_font=value(FONT), text_font_size=value("13.5px"), text_color="black",
            text_baseline="middle", text_align="center")

layout = column(header, column(price, volume, spacing=0), column(bottom), spacing=0)
html = file_html(layout, INLINE, title="US:KWGBF historic chart")
html = html.replace("<head>", "<head><style>html, body { margin: 0; padding: 0; }</style>", 1)
open("out.html", "w").write(html)
